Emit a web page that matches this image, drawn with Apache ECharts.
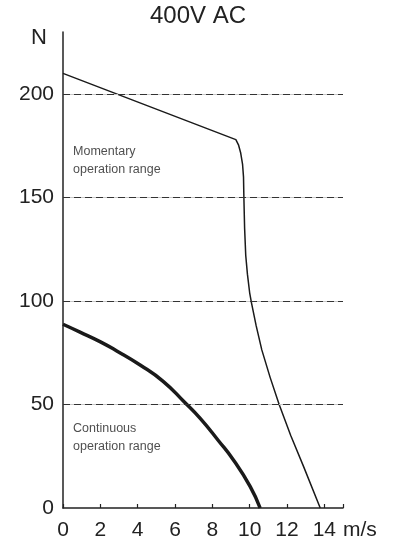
<!DOCTYPE html>
<html><head><meta charset="utf-8">
<script src="https://cdn.jsdelivr.net/npm/echarts@6/dist/echarts.min.js"></script>
<style>html,body{margin:0;padding:0;background:#fff}#c{width:396px;height:548px}</style>
</head><body><div id="c"></div>
<script>
const title = '400V AC';
const xTicks = [0, 2, 4, 6, 8, 10, 12, 14];
const yTicks = [0, 50, 100, 150, 200];
const gridLines = [50, 100, 150, 200];
const momentaryX = [0, 9.26, 9.4, 9.52, 9.62, 9.67, 9.69, 9.73, 9.79, 9.88, 10.0, 10.1, 10.35, 10.65, 11.1, 11.58, 12.2, 12.89, 13.78];
const momentaryY = [210, 178, 175.5, 171.5, 166, 160, 150, 135, 122, 113, 104, 99, 88, 76.4, 63, 50, 35, 20, 0];
const continuousX = [0, 0.91, 1.98, 2.88, 4.13, 5.38, 6.5, 7.35, 8.33, 9.13, 10.03, 10.56];
const continuousY = [88.8, 85, 80.4, 75.9, 69.1, 61.1, 51.2, 43.3, 32.5, 23.2, 10.3, 0];
const labels = [
  {text: 'Momentary\noperation range', x: 0.54, y: 176.5},
  {text: 'Continuous\noperation range', x: 0.54, y: 42.5}
];
const font = 'Liberation Sans, Arial, sans-serif';
const zip = (xs, ys) => xs.map((x, i) => [x, ys[i]]);
const chart = echarts.init(document.getElementById('c'));
chart.setOption({
  animation: false,
  title: {text: title, left: 'center', top: -1, textStyle: {fontFamily: font, fontSize: 24, fontWeight: 'normal', color: '#222'}},
  grid: {left: 63, right: 53, top: 32, bottom: 40},
  xAxis: {
    type: 'value', min: 0, max: 15, interval: 2,
    name: 'm/s', nameLocation: 'end', nameGap: 0,
    nameTextStyle: {fontFamily: font, fontSize: 21, color: '#222', verticalAlign: 'top', align: 'left', padding: [12, 0, 0, 0]},
    axisLine: {lineStyle: {color: '#222', width: 1.5}},
    axisTick: {show: true, inside: true, length: 4, lineStyle: {color: '#222', width: 1.2}},
    axisLabel: {fontFamily: font, fontSize: 21, color: '#222', margin: 12,
      formatter: v => xTicks.includes(v) ? String(v) : ''},
    splitLine: {show: false}
  },
  yAxis: {
    type: 'value', min: 0, max: 230, interval: 50,
    name: 'N', nameLocation: 'end', nameGap: -6,
    nameTextStyle: {fontFamily: font, fontSize: 22, color: '#222', align: 'right', verticalAlign: 'middle', padding: [0, 16, 0, 0]},
    axisLine: {show: true, lineStyle: {color: '#222', width: 1.5}},
    axisTick: {show: false},
    axisLabel: {fontFamily: font, fontSize: 21, color: '#222', margin: 9,
      formatter: v => yTicks.includes(v) ? String(v) : ''},
    splitLine: {show: false}
  },
  series: [
    {
      type: 'line', data: [], silent: true,
      markLine: {silent: true, symbol: 'none', label: {show: false},
        lineStyle: {color: '#c8c8c8', width: 1, type: 'solid'},
        data: gridLines.map(v => ({yAxis: v}))}
    },
    {
      type: 'line', data: [], silent: true,
      markLine: {silent: true, symbol: 'none', label: {show: false},
        lineStyle: {color: '#333', width: 1.2, type: [7, 4]},
        data: gridLines.map(v => ({yAxis: v}))}
    },
    {
      type: 'line', data: zip(momentaryX, momentaryY), showSymbol: false, smooth: false,
      lineStyle: {color: '#1a1a1a', width: 1.5}
    },
    {
      type: 'line', data: zip(continuousX, continuousY), showSymbol: false, smooth: 0.5,
      lineStyle: {color: '#1a1a1a', width: 3.5}
    },
    {
      type: 'scatter', silent: true, symbolSize: 0,
      data: labels.map(l => ({value: [l.x, l.y], name: l.text})),
      label: {show: true, position: [0, 0], formatter: p => p.name, fontFamily: font, fontSize: 12.5, color: '#222',
        align: 'left', verticalAlign: 'top', lineHeight: 18}
    }
  ]
});
</script></body></html>
